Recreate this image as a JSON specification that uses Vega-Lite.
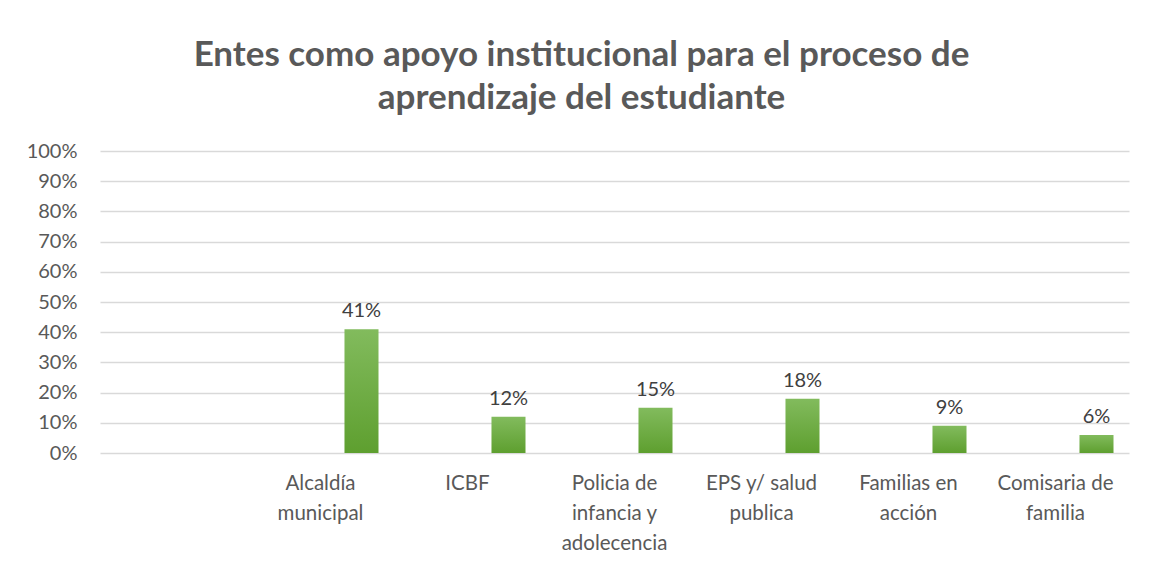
{
  "$schema": "https://vega.github.io/schema/vega-lite/v6.json",
  "width": 1029,
  "height": 302,
  "autosize": {"type": "none"},
  "padding": {"left": 100, "top": 151, "right": 22, "bottom": 115},
  "background": "white",
  "title": {
    "text": ["Entes como apoyo institucional para el proceso de", "aprendizaje del estudiante"],
    "font": "Lato",
    "fontSize": 35,
    "fontWeight": "bold",
    "color": "#595959",
    "lineHeight": 43,
    "anchor": "middle",
    "dx": -33,
    "offset": 25
  },
  "data": {
    "values": [
      {"ente": "Alcaldía municipal", "serie": "S2", "porcentaje": 0.41},
      {"ente": "ICBF", "serie": "S2", "porcentaje": 0.12},
      {"ente": "Policia de infancia y adolecencia", "serie": "S2", "porcentaje": 0.15},
      {"ente": "EPS y/ salud publica", "serie": "S2", "porcentaje": 0.18},
      {"ente": "Familias en acción", "serie": "S2", "porcentaje": 0.09},
      {"ente": "Comisaria de familia", "serie": "S2", "porcentaje": 0.06}
    ]
  },
  "encoding": {
    "x": {
      "field": "ente",
      "type": "nominal",
      "sort": null,
      "scale": {
        "domain": [" ", "Alcaldía municipal", "ICBF", "Policia de infancia y adolecencia", "EPS y/ salud publica", "Familias en acción", "Comisaria de familia"],
        "paddingInner": 0,
        "paddingOuter": 0
      },
      "axis": {
        "title": null,
        "labelAngle": 0,
        "ticks": false,
        "domain": false,
        "grid": false,
        "labelPadding": 20,
        "labelFont": "Lato",
        "labelFontSize": 20.5,
        "labelColor": "#595959",
        "labelLineHeight": 30,
        "labelBaseline": "top",
        "labelLimit": 200,
        "labelExpr": "datum.value == 'Alcaldía municipal' ? ['Alcaldía','municipal'] : datum.value == 'Policia de infancia y adolecencia' ? ['Policia de','infancia y','adolecencia'] : datum.value == 'EPS y/ salud publica' ? ['EPS y/ salud','publica'] : datum.value == 'Familias en acción' ? ['Familias en','acción'] : datum.value == 'Comisaria de familia' ? ['Comisaria de','familia'] : datum.value"
      }
    },
    "xOffset": {
      "field": "serie",
      "type": "nominal",
      "scale": {"domain": ["S1", "S2"], "paddingInner": 0.585, "paddingOuter": 0.189}
    },
    "y": {
      "field": "porcentaje",
      "type": "quantitative",
      "scale": {"domain": [0, 1], "nice": false},
      "axis": {
        "title": null,
        "values": [0, 0.1, 0.2, 0.3, 0.4, 0.5, 0.6, 0.7, 0.8, 0.9, 1],
        "format": ".0%",
        "ticks": false,
        "domain": false,
        "labelPadding": 23,
        "labelFont": "Lato",
        "labelFontSize": 20,
        "labelColor": "#595959",
        "gridColor": "#d9d9d9",
        "gridWidth": 1.5
      }
    }
  },
  "layer": [
    {
      "mark": {
        "type": "bar",
        "color": {
          "gradient": "linear",
          "x1": 0, "y1": 0, "x2": 0, "y2": 1,
          "stops": [
            {"offset": 0, "color": "#82bb5d"},
            {"offset": 1, "color": "#5e9f2f"}
          ]
        }
      }
    },
    {
      "mark": {"type": "text", "font": "Lato", "fontSize": 20, "color": "#404040", "baseline": "bottom", "dy": -8},
      "encoding": {
        "text": {"field": "porcentaje", "type": "quantitative", "format": ".0%"}
      }
    }
  ],
  "config": {
    "view": {"stroke": null}
  }
}
